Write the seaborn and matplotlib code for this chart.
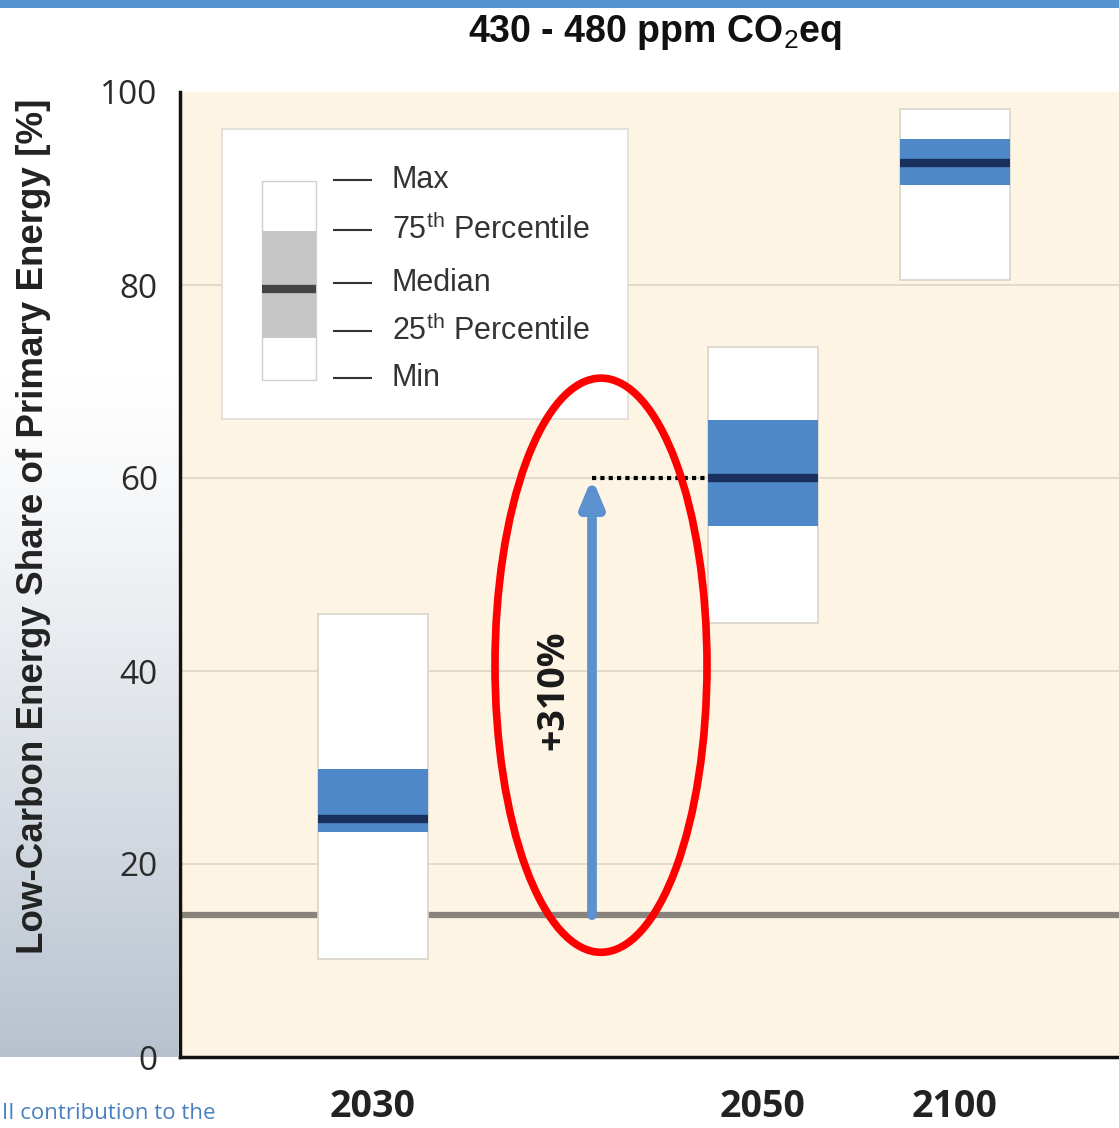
import numpy as np
import pandas as pd
import matplotlib.pyplot as plt
import seaborn as sns
from matplotlib.patches import Rectangle, Ellipse

# ------------------------------------------------------------------
# Daten
# ------------------------------------------------------------------
years = ['2030', '2050', '2100']
v_min = [10.2, 45.0, 80.5]
v_q25 = [23.3, 55.0, 90.4]
v_med = [24.7, 60.0, 92.6]
v_q75 = [29.8, 66.0, 95.1]
v_max = [45.9, 73.6, 98.2]
baseline = 14.7          # heutiger Anteil
target = 60.0            # Median 2050
increase_label = '+310%'

legend_labels = ['Max', '75$^{\\mathrm{th}}$ Percentile', 'Median',
                 '25$^{\\mathrm{th}}$ Percentile', 'Min']

# Layout (x in Pixeln ab linker Achse)
x_pos = [193, 583, 775]
box_w = 110
arrow_x = 412

df = pd.DataFrame({'year': years, 'x': x_pos, 'min': v_min, 'q25': v_q25,
                   'med': v_med, 'q75': v_q75, 'max': v_max})

sns.set_theme(style="white")
plt.rcParams['font.family'] = ['Liberation Sans', 'DejaVu Sans']
plt.rcParams['mathtext.fontset'] = 'custom'
plt.rcParams['mathtext.rm'] = 'Liberation Sans'
plt.rcParams['mathtext.bf'] = 'Liberation Sans:bold'

cream = '#fdf4e4'
blue = '#4e88c8'
navy = '#1b2f5e'

fig = plt.figure(figsize=(11.19, 11.28), dpi=100)

# Hintergrund: blauer Streifen oben + Verlauf links
bg = fig.add_axes([0, 0, 1, 1], zorder=-10)
bg.set_xlim(0, 1119)
bg.set_ylim(1128, 0)
bg.axis('off')
grad = np.linspace(0, 1, 256)[:, None]
grad = np.clip((grad - 0.35) / 0.65, 0, 1) ** 1.2
bottom_col = np.array([0.72, 0.76, 0.81])
rgb = (1 - grad[..., None]) * np.array([1.0, 1.0, 1.0]) + grad[..., None] * bottom_col
bg.imshow(rgb, extent=[0, 178, 1057, 8], aspect='auto')
bg.add_patch(Rectangle((0, 0), 1119, 8, color='#5592cf', lw=0))
bg.text(2, 1103, 'II contribution to the', color='#4a7fc1', fontsize=16,
        family=['Open Sans', 'DejaVu Sans'], ha='left', va='top')

ax = fig.add_axes([180 / 1119, 1 - 1057 / 1128, 1 - 180 / 1119, (1057 - 92) / 1128])
ax.set_facecolor(cream)
ax.set_xlim(0, 939)
ax.set_ylim(0, 100)

# Gitterlinien
for gy in [20, 40, 60, 80]:
    ax.axhline(gy, color='#ddd6c8', lw=1.2, zorder=1)

# Basislinie
sns.lineplot(x=[0, 939], y=[baseline, baseline], color='#8a837c', lw=4.5, ax=ax, zorder=2)

# Boxen
ax.bar(df['x'], df['max'] - df['min'], bottom=df['min'], width=box_w, color='white',
       edgecolor='#d9d4cb', lw=1.2, zorder=3)
ax.bar(df['x'], df['q75'] - df['q25'], bottom=df['q25'], width=box_w, color=blue,
       lw=0, zorder=4)
ax.hlines(df['med'], df['x'] - box_w / 2, df['x'] + box_w / 2, color=navy, lw=6, zorder=5)

# Pfeil + gepunktete Linie
ax.annotate('', xy=(arrow_x, target), xytext=(arrow_x, baseline),
            arrowprops=dict(arrowstyle='-|>,head_width=0.55,head_length=1.3',
                            color='#5b91cf', lw=7, shrinkA=0, shrinkB=0), zorder=6)
ax.plot([arrow_x, x_pos[1] - box_w / 2], [target, target], color='black', lw=3,
        ls=(0, (1, 1)), zorder=6)
ax.text(373, 38, increase_label, rotation=90, ha='center', va='center', fontsize=27,
        fontweight='bold', color='#1a1a1a', family=['Open Sans', 'DejaVu Sans'], zorder=7)

# roter Kreis
ax.add_patch(Ellipse((421, 40.6), 212, 59.5, fill=False, edgecolor='#ff0000', lw=5.5, zorder=8))

# Legende
ax.add_patch(Rectangle((42, 66.1), 406, 30.1, facecolor='white', edgecolor='#e0ddd8',
                       lw=1.2, zorder=6))
lx0, lw_ = 82, 54
y_max, y_q75, y_med, y_q25, y_min = 90.8, 85.6, 79.6, 74.5, 70.2
ax.add_patch(Rectangle((lx0, y_min), lw_, y_max - y_min, facecolor='white',
                       edgecolor='#d0d0d0', lw=1, zorder=7))
ax.add_patch(Rectangle((lx0, y_q25), lw_, y_q75 - y_q25, facecolor='#c6c6c6', lw=0, zorder=8))
ax.hlines(y_med, lx0, lx0 + lw_, color='#444444', lw=6, zorder=9)
text_y = [90.9, 85.7, 80.2, 75.2, 70.4]
for ty, lab in zip(text_y, legend_labels):
    ax.hlines(ty, 153, 192, color='#333333', lw=1.5, zorder=9)
    ax.text(212, ty, lab, fontsize=22, color='#333333', va='center', ha='left', zorder=9)

# Achsen
sns.despine(ax=ax, top=True, right=True)
ax.spines['left'].set_color('#111111')
ax.spines['bottom'].set_color('#111111')
ax.spines['left'].set_linewidth(2.5)
ax.spines['bottom'].set_linewidth(2.5)
ax.set_yticks([0, 20, 40, 60, 80, 100])
ax.set_yticklabels(['0', '20', '40', '60', '80', '100'], fontsize=24, color='#2a2a2a',
                   family=['Open Sans', 'DejaVu Sans'])
ax.tick_params(axis='y', length=0, pad=16)
ax.set_xticks(x_pos)
ax.set_xticklabels(years, fontsize=27, fontweight='bold', color='#222222',
                   family=['Open Sans', 'DejaVu Sans'])
ax.tick_params(axis='x', length=0, pad=22)
ax.set_ylabel('Low-Carbon Energy Share of Primary Energy [%]', fontsize=26.5,
              fontweight='bold', color='#222222')
ax.yaxis.set_label_coords(-0.137, 0.55)

fig.text(655 / 1119, 1 - 32 / 1128, '430 - 480 ppm CO$_2$eq', ha='center', va='center',
         fontsize=27, fontweight='bold', color='#111111')

fig.savefig('out.png', dpi=100)
